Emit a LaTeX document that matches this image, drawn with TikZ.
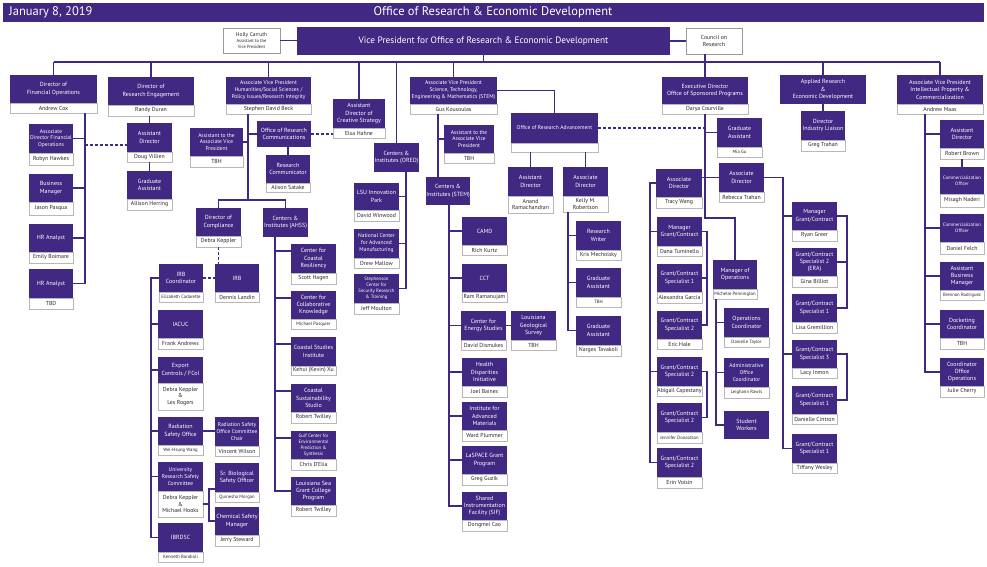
\documentclass[tikz,border=0pt]{standalone}
\usepackage{fontspec}
\setmainfont{PT Sans}
\definecolor{pur}{RGB}{65,40,130}
\newcommand\tnm{\fontsize{4.7}{5.5}\selectfont}
\newcommand\hsm{\fontsize{4.5}{5.5}\selectfont}
\tikzset{
 pbx/.style={fill=pur, text=white, inner sep=0.3pt, outer sep=0pt, align=center, font=\fontsize{6}{7.4}\selectfont},
 nbx/.style={draw=black!28, fill=white, line width=0.5pt, inner sep=0.3pt, outer sep=0pt, align=center, text=black!85, font=\fontsize{5.8}{6.8}\selectfont},
 wbx/.style={draw=black!40, fill=white, line width=0.6pt, inner sep=0.3pt, outer sep=0pt, align=center, text=black!85},
 ln/.style={draw=pur, line width=1.2pt},
 dl/.style={draw=pur, line width=1.2pt, dash pattern=on 3pt off 2pt},
 sm/.style={font=\fontsize{5.5}{6.9}\selectfont},
 xs/.style={font=\fontsize{4.8}{5.9}\selectfont}
}
\newcommand\ob[9][]{%
 \node[nbx, minimum width={(#5-#3)*1pt}, minimum height={(#7-#6)*1pt}, anchor=north west] (#2-n) at (#3,#6) {#9};
 \node[pbx, #1, minimum width={(#5-#3)*1pt}, minimum height={(#6-#4)*1pt}, anchor=north west] (#2) at (#3,#4) {#8};
}
\newcommand\pb[7][]{%
 \node[pbx, #1, minimum width={(#5-#3)*1pt}, minimum height={(#6-#4)*1pt}, anchor=north west] (#2) at (#3,#4) {#7};
}
\begin{document}
\begin{tikzpicture}[x=1pt,y=-1pt]
\useasboundingbox (0,0) rectangle (987,566);
\fill[white] (0,0) rectangle (987,566);
% header
\node[fill=pur, minimum width=981pt, minimum height=19pt, anchor=north west, inner sep=0pt] (hdr) at (3,3) {};
\node[text=white, font=\fontsize{12.5}{14}\selectfont, anchor=west, inner sep=0pt] (date) at (9,12.5) {January 8, 2019};
\node[text=white, font=\fontsize{12.5}{14}\selectfont, inner sep=0pt] (ttl) at (493,12.5) {Office of Research \& Economic Development};
% top
\node[wbx, minimum width=57pt, minimum height=25pt, anchor=north west, font=\fontsize{5.5}{6}\selectfont] (holly) at (223,28) {Holly Carruth\\\hsm Assistant to the\\\hsm Vice President};
\node[pbx, font=\fontsize{9.3}{11}\selectfont, minimum width=373pt, minimum height=28pt, anchor=north west] (vp) at (297,27) {Vice President for Office of Research \& Economic Development};
\node[wbx, minimum width=56pt, minimum height=26pt, anchor=north west, font=\fontsize{5.8}{7}\selectfont] (council) at (686,28) {Council on\\Research};
% level 1
\ob{fin}{10}{75}{97}{103}{113}{Director of\\Financial Operations}{Andrew Cox}
\ob{reseng}{108}{77}{194}{105}{116}{Director of\\Research Engagement}{Randy Duran}
\ob[sm]{ahss}{226}{77}{311}{104}{114}{Associate Vice President\\Humanities/Social Sciences /\\Policy Issues/Research Integrity}{Stephen David Beck}
\ob{creative}{333}{99}{385}{128}{138}{Assistant\\Director of\\Creative Strategy}{Elsa Hahne}
\pb{ored}{374}{143}{419}{172}{Centers \&\\Institutes (ORED)}
\ob[sm]{stem}{410}{77}{497}{104}{114}{Associate Vice President\\Science, Technology,\\Engineering \& Mathematics (STEM)}{Gus Kousoulas}
\ob{exec}{662}{77}{748}{104}{114}{Executive Director\\Office of Sponsored Programs}{Darya Courville}
\pb{applied}{780}{75}{866}{104}{Applied Research\\\&\\Economic Development}
\ob{ipc}{897}{75}{983}{104}{114}{Associate Vice President\\Intellectual Property \&\\Commercialization}{Andrew Maas}
% financial
\ob[sm]{adfo}{29}{124}{73}{153}{165}{Associate\\Director Financial\\Operations}{Robyn Hawkes}
\ob{bm}{29}{174}{73}{202}{215}{Business\\Manager}{Jason Pasqua}
\ob{hr1}{29}{224}{73}{252}{263}{HR Analyst}{Emily Boimare}
\ob{hr2}{29}{269}{73}{298}{309}{HR Analyst}{TBD}
% research engagement
\ob{ad2}{127}{123}{172}{152}{162}{Assistant\\Director}{Doug Villien}
\ob{ga1}{127}{171}{172}{199}{210}{Graduate\\Assistant}{Allison Herring}
% AHSS
\ob[sm]{aavp}{190}{128}{243}{156}{167}{Assistant to the\\Associate Vice\\President}{TBH}
\pb{orc}{257}{121}{311}{147}{Office of Research\\Communications}
\ob{rc}{266}{155}{310}{183}{192}{Research\\Communicator}{Alison Satake}
\ob{dc}{196}{208}{241}{236}{247}{Director of\\Compliance}{Debra Keppler}
\pb{cahss}{263}{208}{308}{237}{Centers \&\\Institutes (AHSS)}
% compliance
\ob{irbc}{159}{264}{203}{292}{302}{IRB\\Coordinator}{\tnm Elizabeth Cadarette}
\ob{irb}{215}{264}{259}{292}{302}{IRB}{Dennis Landin}
\ob{iacuc}{158}{310}{203}{338}{349}{IACUC}{Frank Andrews}
\ob{exp}{158}{357}{203}{383}{410}{Export\\Controls / FCoI}{Debra Keppler\\\&\\Les Rogers}
\ob{rso}{158}{417}{203}{445}{455}{Radiation\\Safety Office}{\tnm Wei-Hsung Wang}
\ob[sm]{ursc}{158}{462}{203}{491}{517}{University\\Research Safety\\Committee}{Debra Keppler\\\&\\Michael Hooks}
\ob{ibr}{158}{523}{203}{552}{562}{IBRDSC}{\tnm Kenneth Bondioli}
\ob[sm]{rsocc}{215}{417}{259}{446}{456}{Radiation Safety\\Office Committee\\Chair}{Vincent Wilson}
\ob{sbso}{215}{463}{259}{492}{502}{Sr. Biological\\Safety Officer}{\tnm Quinesha Morgan}
\ob{csm}{215}{507}{259}{535}{546}{Chemical Safety\\Manager}{Jerry Steward}
% AHSS centers
\ob{ccr}{291}{244}{336}{273}{284}{Center for\\Coastal\\Resiliency}{Scott Hagen}
\ob{cck}{291}{291}{336}{319}{329}{Center for\\Collaborative\\Knowledge}{\tnm Michael Pasquier}
\ob{csi}{291}{337}{336}{366}{375}{Coastal Studies\\Institute}{Kehui (Kevin) Xu}
\ob{css}{291}{384}{336}{412}{423}{Coastal\\Sustainability\\Studio}{Robert Twilley}
\ob[xs]{gc}{291}{431}{336}{459}{470}{Gulf Center for\\Environmental\\Prediction \&\\Synthesis}{Chris D'Elia}
\ob{lsg}{291}{477}{336}{505}{516}{Louisiana Sea\\Grant College\\Program}{Robert Twilley}
% ORED centers
\ob{lsuip}{354}{183}{399}{210}{221}{LSU Innovation\\Park}{David Winwood}
\ob[sm]{ncam}{354}{229}{399}{258}{268}{National Center\\for Advanced\\Manufacturing}{Drew Mallow}
\ob[xs]{scsr}{354}{274}{399}{303}{314}{Stephenson\\Center for\\Security Research\\\& Training}{Jeff Moulton}
% STEM
\ob[sm]{aavp2}{444}{125}{494}{153}{163}{Assistant to the\\Associate Vice\\President}{TBH}
\pb{cstem}{426}{177}{470}{205}{Centers \&\\Institutes (STEM)}
\ob{camd}{462}{217}{507}{245}{255}{CAMD}{Rich Kurtz}
\ob{cct}{462}{264}{507}{292}{302}{CCT}{Ram Ramanujam}
\ob{ces}{461}{311}{506}{340}{350}{Center for\\Energy Studies}{David Dismukes}
\ob{lgs}{511}{311}{556}{340}{350}{Louisiana\\Geological\\Survey}{TBH}
\ob{hdi}{462}{358}{507}{386}{397}{Health\\Disparities\\Initiative}{Joel Baines}
\ob{iam}{462}{402}{507}{430}{441}{Institute for\\Advanced\\Materials}{Ward Plummer}
\ob{lsp}{462}{446}{507}{474}{485}{LaSPACE Grant\\Program}{Greg Guzik}
\ob{sif}{462}{492}{507}{520}{531}{Shared\\Instrumentation\\Facility (SIF)}{Dongmei Cao}
% ORA
\ob[sm]{ora}{511}{113}{598}{143}{152}{Office of Research Advancement}{}
\ob{ad3}{508}{167}{553}{196}{213}{Assistant\\Director}{Anand\\Ramachandran}
\ob{ad4}{563}{167}{608}{196}{212}{Associate\\Director}{Kelly M.\\Robertson}
\ob{rw}{576}{221}{621}{250}{260}{Research\\Writer}{Kris Mecholsky}
\ob{ga2}{576}{268}{621}{297}{307}{Graduate\\Assistant}{\tnm TBH}
\ob{ga3}{576}{316}{621}{345}{356}{Graduate\\Assistant}{Narges Tavakoli}
% sponsored programs
\ob{gam}{717}{118}{762}{147}{157}{Graduate\\Assistant}{\tnm Mia Gu}
\ob{tw}{656}{169}{702}{197}{208}{Associate\\Director}{Tracy Wang}
\ob{rt}{719}{163}{764}{192}{202}{Associate\\Director}{Rebecca Trahan}
\ob{dana}{657}{217}{702}{246}{256}{Manager\\Grant/Contract}{Dana Tuminello}
\ob{alex}{657}{264}{702}{292}{303}{Grant/Contract\\Specialist 1}{Alexandra Garcia}
\ob{eric}{657}{311}{702}{339}{349}{Grant/Contract\\Specialist 2}{Eric Hale}
\ob{abi}{657}{357}{702}{386}{396}{Grant/Contract\\Specialist 2}{Abigail Capestany}
\ob{jen}{657}{403}{702}{432}{443}{Grant/Contract\\Specialist 2}{\tnm Jennifer Donaldson}
\ob{erin}{657}{448}{702}{477}{488}{Grant/Contract\\Specialist 2}{Erin Voisin}
\ob{moo}{713}{260}{757}{289}{299}{Manager of\\Operations}{\tnm Michelle Pennington}
\ob{oc}{724}{308}{769}{337}{347}{Operations\\Coordinator}{\tnm Danielle Taylor}
\ob[sm]{aoc}{724}{358}{769}{387}{398}{Administrative\\Office\\Coordinator}{\tnm Leighann Rawls}
\pb{sw}{724}{411}{769}{439}{Student\\Workers}
\ob{mgc}{792}{202}{837}{230}{241}{Manager\\Grant/Contract}{Ryan Greer}
\ob{gs2}{792}{248}{837}{276}{287}{Grant/Contract\\Specialist 2\\(ERA)}{Gina Billiot}
\ob{gs1a}{792}{294}{837}{322}{333}{Grant/Contract\\Specialist 1}{Lisa Gremillion}
\ob{gs3}{792}{340}{837}{368}{378}{Grant/Contract\\Specialist 3}{Lacy Inmon}
\ob{gs1b}{792}{386}{837}{414}{424}{Grant/Contract\\Specialist 1}{Danielle Cintron}
\ob{gs1c}{792}{434}{837}{463}{473}{Grant/Contract\\Specialist 1}{Tiffany Wesley}
% applied
\ob{dil}{801}{111}{845}{140}{151}{Director\\Industry Liaison}{Greg Trahan}
% IP
\ob{rb}{940}{120}{984}{148}{159}{Assistant\\Director}{Robert Brown}
\ob[xs]{co1}{940}{167}{984}{194}{207}{Commercialization\\Officer}{Misagh Naderi}
\ob[xs]{co2}{940}{214}{984}{242}{254}{Commercialization\\Officer}{Daniel Felch}
\ob{abm}{940}{262}{984}{290}{300}{Assistant\\Business\\Manager}{\tnm Brennan Rodriguez}
\ob{dock}{940}{310}{984}{338}{349}{Docketing\\Coordinator}{TBH}
\ob{coo}{940}{358}{984}{386}{397}{Coordinator\\Office\\Operations}{Julie Cherry}

% ---------- connectors ----------
\coordinate (bus) at (0,62);
\draw[ln] (fin.north |- bus) -- (ipc.north |- bus);
\foreach \n in {fin,reseng,ahss,creative,ored,stem,exec,applied,ipc} \draw[ln] (\n.north |- bus) -- (\n.north);
\draw[ln] (vp.south) -- (vp.south |- bus);
\draw[ln] (council.south -| exec.north) -- (exec.north |- bus);
\draw[ln] (holly.east) -- (holly.east -| vp.west);
\draw[ln] (vp.east |- council.west) -- (council.west);
% financial
\coordinate (finT) at (85,113);
\draw[ln] (finT) |- (hr2.east);
\foreach \n in {adfo,bm,hr1} \draw[ln] (finT |- \n.east) -- (\n.east);
\coordinate (dsh) at ([yshift=-7.5pt]ad2.west);
\draw[dl] (finT |- dsh) -- (dsh);
% research engagement
\draw[ln] (ad2.north |- reseng-n.south) -- (ad2.north);
\draw[ln] (ad2-n.south) -- (ga1.north);
% AHSS
\coordinate (ahT) at (248,114);
\coordinate (ahB) at (248,200);
\draw[ln] (ahT) -- (ahB);
\draw[ln] (dc.north) |- (ahB) -| (cahss.north);
\draw[ln] (ahT |- aavp.east) -- (aavp.east);
\draw[ln] (ahT |- orc.west) -- (orc.west);
\draw[ln] (rc.north |- orc.south) -- (rc.north);
\draw[dl] (orc.east) -- (orc.east -| creative-n.west);
% compliance
\draw[dl] (dc-n.south) -- (dc-n.south |- irb.north);
\draw[dl] (irbc.east) -- (irb.west);
\coordinate (cmT) at (151,278);
\draw[ln] (irbc.west) -- (cmT |- irbc.west) -- (cmT |- ibr.west) -- (ibr.west);
\foreach \n in {iacuc,exp,rso,ursc} \draw[ln] (cmT |- \n.west) -- (\n.west);
\draw[ln] (rso.east) -- (rso.east -| rsocc.west);
\coordinate (brU) at (209,0);
\coordinate (sbT) at ([yshift=3pt]sbso.south west);
\draw[ln] (ursc-n.east) -- (brU |- ursc-n.east);
\draw[ln] (sbT) -- (brU |- sbT) -- (brU |- csm.west) -- (csm.west);
% AHSS centers
\coordinate (acT) at (275,237);
\draw[ln] (cahss.south -| acT) -- (acT |- lsg.west) -- (lsg.west);
\foreach \n in {ccr,cck,csi,css,gc} {
  \coordinate (tk) at ([yshift=-7pt]\n.north west);
  \draw[ln] (acT |- tk) -- (tk);
}
% ORED
\coordinate (orT) at (406,172);
\draw[ln] (ored.south -| orT) -- (orT |- scsr.east) -- (scsr.east);
\foreach \n in {lsuip,ncam} \draw[ln] (orT |- \n.east) -- (\n.east);
% STEM
\coordinate (stT) at (438,114);
\draw[ln] (stem-n.south -| stT) -- (stT |- cstem.north);
\draw[ln] (stT |- aavp2.west) -- (aavp2.west);
\draw[ln] (stem.east) -| (ora.north);
\coordinate (scT) at (449,205);
\draw[ln] (cstem.south -| scT) -- (scT |- sif.west) -- (sif.west);
\foreach \n in {camd,cct,ces,hdi,iam,lsp} \draw[ln] (scT |- \n.west) -- (\n.west);
\draw[ln] (ces.east) -- (ces.east -| lgs.west);
% ORA
\draw[ln] (ad3.north |- ora-n.south) -- (ad3.north);
\draw[ln] (ad4.north |- ora-n.south) -- (ad4.north);
\coordinate (kT) at (568,212);
\draw[ln] (ad4-n.south -| kT) -- (kT |- ga3.west) -- (ga3.west);
\foreach \n in {rw,ga2} \draw[ln] (kT |- \n.west) -- (\n.west);
% sponsored programs
\coordinate (exB) at (705,218);
\draw[ln] (exec-n.south) -- (exec-n.south |- exB) -| (moo.north);
\draw[dl] (ora.east) -- (ora.east -| exB);
\draw[ln] (exB |- gam.west) -- (gam.west);
\draw[ln] (tw.east |- rt.west) -- (rt.west);
\coordinate (twT) at (650,183);
\draw[ln] (tw.west) -- (twT |- tw.west) -- (twT |- erin.west) -- (erin.west);
\foreach \n in {dana,abi} \draw[ln] (twT |- \n.west) -- (\n.west);
\coordinate (tbr) at (707,0);
\draw[ln] (dana.east) -- (tbr |- dana.east) -- (tbr |- eric.east) -- (eric.east);
\draw[ln] (tbr |- alex.east) -- (alex.east);
\draw[ln] (abi.east) -- (tbr |- abi.east) -- (tbr |- jen.east) -- (jen.east);
\coordinate (mT) at (716,299);
\draw[ln] (moo-n.south -| mT) -- (mT |- sw.west) -- (sw.west);
\foreach \n in {oc,aoc} \draw[ln] (mT |- \n.west) -- (\n.west);
\coordinate (rT) at (783,0);
\draw[ln] (rt.east) -- (rT |- rt.east) -- (rT |- gs1c.west) -- (gs1c.west);
\foreach \n in {mgc,gs3} \draw[ln] (rT |- \n.west) -- (\n.west);
\coordinate (rR) at (847,0);
\draw[ln] (mgc.east) -- (rR |- mgc.east) -- (rR |- gs1a.east) -- (gs1a.east);
\draw[ln] (rR |- gs2.east) -- (gs2.east);
\draw[ln] (gs3.east) -- (rR |- gs3.east) -- (rR |- gs1b.east) -- (gs1b.east);
% applied
\draw[ln] (applied.south) -- (dil.north);
% IP
\coordinate (iT) at (925,114);
\draw[ln] (ipc-n.south -| iT) -- (iT |- coo.west) -- (coo.west);
\foreach \n in {rb,co2,abm,dock} \draw[ln] (iT |- \n.west) -- (\n.west);
\draw[ln] (rb-n.south) -- (co1.north);
\end{tikzpicture}
\end{document}
